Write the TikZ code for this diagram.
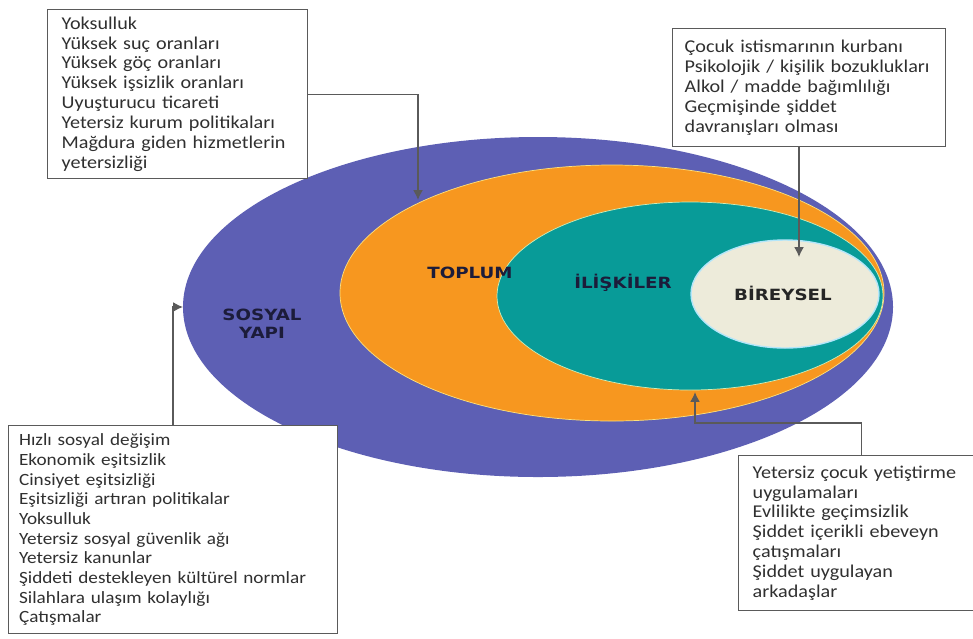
\documentclass[tikz,border=0pt]{standalone}
\usepackage{xcolor}
\usepackage{fontspec}
\setmainfont{Carlito}[FakeStretch=1.12]
\newfontfamily\ringfont{DejaVu Sans}[FakeStretch=1.18]
\usetikzlibrary{shapes.geometric}
\usetikzlibrary{arrows.meta}
\usetikzlibrary{positioning}

\definecolor{sosyalmor}{HTML}{5D5FB4}
\definecolor{toplumturuncu}{HTML}{F7971F}
\definecolor{iliskiyesil}{HTML}{089B98}
\definecolor{bireykrem}{HTML}{EDEBDA}
\definecolor{kutucizgi}{HTML}{5A5A5A}
\definecolor{yazi}{HTML}{303030}
\definecolor{baslik}{HTML}{1C1C3A}

\tikzset{
  ring/.style={ellipse, inner sep=0pt, outer sep=0pt},
  ringlabel/.style={font=\ringfont\bfseries\fontsize{11}{12.8}\selectfont, text=baslik, align=center},
  factorbox/.style={draw=kutucizgi, line width=1pt, fill=white, anchor = north west, align=left,
                    inner ysep=0pt, text=yazi, font={\fontsize{12.8}{14.2}\selectfont\hyphenpenalty=10000}},
  link/.style={draw=kutucizgi, line width=1pt, -{Latex[length=7pt,width=7pt]}}
}

\begin{document}
\begin{tikzpicture}[x=0.25mm, y=-0.25mm]
                      \useasboundingbox (0,0) rectangle (973,638);

                      %Rings
                      \node[ring, fill=sosyalmor, minimum width=177.5mm, minimum height=85mm] (sosyal) at (538,307) {};
                      \node[ring, fill=toplumturuncu, draw=yellow!60!orange!50, line width=0.5pt,
                            minimum width=136mm, minimum height=64mm] (toplum) at (612,293) {};
                      \node[ring, fill=iliskiyesil, draw=yellow!40!green!30, line width=0.5pt,
                            minimum width=96.5mm, minimum height=47mm] (iliski) at (690,296) {};
                      \node[ring, fill=bireykrem, draw=cyan!30, line width=1pt,
                            minimum width=47mm, minimum height=27mm] (birey) at (785,294) {};

                      \node[ringlabel] (sosyalyazi) at (262,324) {SOSYAL\\YAPI};
                      \node[ringlabel] (toplumyazi) at (470,273) {TOPLUM};
                      \node[ringlabel] (iliskiyazi) at (623,283) {İLİŞKİLER};
                      \node[ringlabel, text=black!85] (bireyyazi) at (783,293) {BİREYSEL};

                      %Arrow ends
                      \coordinate (toplumuc) at (418,200);
                      \coordinate (bireyuc) at (799,257);
                      \coordinate (iliskiuc) at (695,392);

                      %Boxes
                      \node[factorbox, inner xsep=3.5mm, text width=58mm, minimum width=65mm, minimum height=42.25mm] (ustsol) at (47,9)
                        {Yoksulluk\\Yüksek suç oranları\\Yüksek göç oranları\\Yüksek işsizlik oranları\\Uyuşturucu ticareti\\Yetersiz kurum politikaları\\Mağdura giden hizmetlerin\\yetersizliği};
                      \node[factorbox, inner xsep=3mm, text width=62.25mm, minimum width=68.25mm, minimum height=29.5mm] (ustsag) at (672,28)
                        {Çocuk istismarının kurbanı\\Psikolojik / kişilik bozuklukları\\Alkol / madde bağımlılığı\\Geçmişinde şiddet\\davranışları olması};
                      \node[factorbox, font={\fontsize{12.2}{14}\selectfont\hyphenpenalty=10000}, inner xsep=2.6mm, text width=77mm, minimum width=82.2mm, minimum height=52mm] (altsol) at (8,425)
                        {Hızlı sosyal değişim\\Ekonomik eşitsizlik\\Cinsiyet eşitsizliği\\Eşitsizliği artıran politikalar\\Yoksulluk\\Yetersiz sosyal güvenlik ağı\\Yetersiz kanunlar\\Şiddeti destekleyen kültürel normlar\\Silahlara ulaşım kolaylığı\\Çatışmalar};
                      \node[factorbox, inner xsep=3.5mm, text width=54.5mm, minimum width=61.5mm, minimum height=38.75mm] (altsag) at (738,455)
                        {Yetersiz çocuk yetiştirme\\uygulamaları\\Evlilikte geçimsizlik\\Şiddet içerikli ebeveyn\\çatışmaları\\Şiddet uygulayan\\arkadaşlar};

                      %Connectors
                      \draw[link] (ustsol.east) -| (toplumuc);
                      \draw[link] (ustsag.south -| bireyuc) -- (bireyuc);
                      \draw[link] (altsol.north) |- (sosyal.west);
                      \draw[link] (altsag.north) -- ++(0,-32) -| (iliskiuc);
                    \end{tikzpicture}
\end{document}
